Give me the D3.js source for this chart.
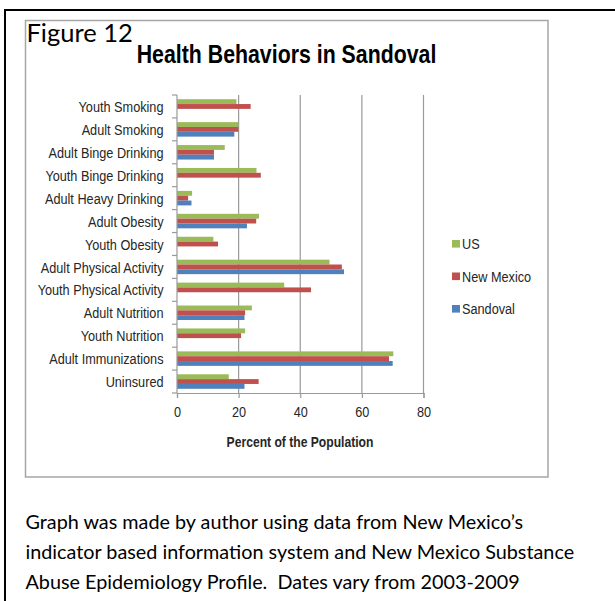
<!DOCTYPE html>
<html>
<head>
<meta charset="utf-8">
<script src="https://cdn.jsdelivr.net/npm/d3@7"></script>
<style>
  html, body { margin: 0; padding: 0; background: #fff; }
  svg { display: block; }
  text { white-space: pre; }
</style>
</head>
<body>
<svg id="fig" width="615" height="601"></svg>
<script>
// Health indicators, top to bottom
const categories = [
  "Youth Smoking", "Adult Smoking", "Adult Binge Drinking", "Youth Binge Drinking",
  "Adult Heavy Drinking", "Adult Obesity", "Youth Obesity", "Adult Physical Activity",
  "Youth Physical Activity", "Adult Nutrition", "Youth Nutrition", "Adult Immunizations",
  "Uninsured"
];
// Percent of the population; null where no county figure exists
const usValues         = [19.3, 19.9, 15.5, 25.8, 4.9, 26.6, 11.8, 49.5, 34.8, 24.3, 22.1, 70.2, 16.8];
const newMexicoValues  = [23.9, 19.9, 12.0, 27.2, 3.6, 25.7, 13.3, 53.5, 43.5, 22.1, 20.8, 68.8, 26.5];
const sandovalValues   = [null, 18.6, 12.0, null, 4.7, 22.7, null, 54.2, null, 21.9, null, 70.0, 21.9];
const seriesNames = ["US", "New Mexico", "Sandoval"];
const seriesColors = ["#9BBB59", "#C0504D", "#4F81BD"];
const xTicks = [0, 20, 40, 60, 80];
const captionLines = [
  "Graph was made by author using data from New Mexico\u2019s",
  "indicator based information system and New Mexico Substance",
  "Abuse Epidemiology Profile.  Dates vary from 2003-2009"
];

const seriesValues = [usValues, newMexicoValues, sandovalValues];
const svg = d3.select("#fig");
const chartFont = "'Liberation Sans', Arial, sans-serif";
const bodyFont = "Lato, 'Open Sans', sans-serif";
const squeeze = 0.82;            // horizontal compression for chart lettering
const textColor = "#262626";
const gridColor = "#9a9a9a";

// page frame
svg.append("path")
  .attr("d", "M5,620 V10 H640")
  .attr("fill", "none").attr("stroke", "#000").attr("stroke-width", 2);

// chart box
svg.append("rect")
  .attr("x", 25.5).attr("y", 20.5).attr("width", 522.5).attr("height", 456.5)
  .attr("fill", "#fff").attr("stroke", "#a6a6a6").attr("stroke-width", 1.5);

svg.append("text")
  .attr("x", 26.5).attr("y", 42)
  .attr("font-family", bodyFont).attr("font-size", 25.5)
  .attr("fill", "#000").text("Figure 12");

svg.append("text")
  .attr("transform", `translate(286.5,63) scale(${squeeze},1)`)
  .attr("text-anchor", "middle")
  .attr("font-family", chartFont).attr("font-weight", "bold").attr("font-size", 26)
  .attr("fill", "#000").text("Health Behaviors in Sandoval");

// plot area
const plot = { left: 177, right: 423.5, top: 95, bottom: 393 };
const x = d3.scaleLinear().domain([0, 80]).range([plot.left, plot.right]);
const y = d3.scaleBand().domain(categories).range([plot.top, plot.bottom]).padding(0);
const groupH = 14.5;
const inner = d3.scaleBand().domain(seriesNames)
  .range([(y.bandwidth() - groupH) / 2, (y.bandwidth() + groupH) / 2]);

// vertical gridlines
svg.append("g").selectAll("line")
  .data(xTicks.filter(t => t > 0))
  .join("line")
  .attr("x1", d => x(d)).attr("x2", d => x(d))
  .attr("y1", plot.top).attr("y2", plot.bottom)
  .attr("stroke", gridColor).attr("stroke-width", 1.2);

// bars
const rows = categories.map((c, i) => ({
  category: c,
  values: seriesNames.map((s, k) => ({ series: s, value: seriesValues[k][i], color: seriesColors[k] }))
}));

svg.append("g").selectAll("g")
  .data(rows)
  .join("g")
  .attr("transform", d => `translate(0,${y(d.category)})`)
  .selectAll("rect")
  .data(d => d.values.filter(v => v.value !== null))
  .join("rect")
  .attr("x", x(0))
  .attr("y", d => inner(d.series))
  .attr("width", d => x(d.value) - x(0))
  .attr("height", inner.bandwidth())
  .attr("fill", d => d.color);

// x axis
const xAxis = svg.append("g")
  .attr("transform", `translate(0,${plot.bottom})`)
  .call(d3.axisBottom(x).tickValues(xTicks).tickSize(5).tickPadding(8));
xAxis.select(".domain").attr("stroke", gridColor).attr("stroke-width", 1.2);
xAxis.selectAll(".tick line").attr("stroke", gridColor).attr("stroke-width", 1.2);
xAxis.selectAll(".tick text")
  .attr("transform", `scale(${squeeze},1)`)
  .attr("font-family", chartFont).attr("font-size", 15.5).attr("fill", textColor);

// y axis: line, boundary ticks, category labels
svg.append("line")
  .attr("x1", plot.left).attr("x2", plot.left)
  .attr("y1", plot.top).attr("y2", plot.bottom)
  .attr("stroke", gridColor).attr("stroke-width", 1.2);

const boundaries = categories.map(c => y(c)).concat([plot.bottom]);
svg.append("g").selectAll("line")
  .data(boundaries)
  .join("line")
  .attr("x1", plot.left - 5).attr("x2", plot.left)
  .attr("y1", d => d).attr("y2", d => d)
  .attr("stroke", gridColor).attr("stroke-width", 1.2);

svg.append("g").selectAll("text")
  .data(categories)
  .join("text")
  .attr("transform", d => `translate(163.5,${y(d) + y.bandwidth() / 2}) scale(${squeeze},1)`)
  .attr("dy", "0.36em")
  .attr("text-anchor", "end")
  .attr("font-family", chartFont).attr("font-size", 15.5).attr("fill", textColor)
  .text(d => d);

svg.append("text")
  .attr("transform", `translate(300,447) scale(${squeeze},1)`)
  .attr("text-anchor", "middle")
  .attr("font-family", chartFont).attr("font-weight", "bold").attr("font-size", 14.8)
  .attr("fill", textColor).text("Percent of the Population");

// legend
const legend = svg.append("g").selectAll("g")
  .data(seriesNames)
  .join("g")
  .attr("transform", (d, i) => `translate(452,${243.8 + i * 32.5})`);
legend.append("rect")
  .attr("x", 0).attr("y", -3.8).attr("width", 8).attr("height", 7.6)
  .attr("fill", (d, i) => seriesColors[i]);
legend.append("text")
  .attr("transform", `translate(10,0) scale(${squeeze},1)`)
  .attr("dy", "0.36em")
  .attr("font-family", chartFont).attr("font-size", 15.5).attr("fill", textColor)
  .text(d => d);

// caption below the chart box
svg.append("g").selectAll("text")
  .data(captionLines)
  .join("text")
  .attr("x", 25.5)
  .attr("y", (d, i) => 529 + i * 30)
  .attr("font-family", bodyFont).attr("font-size", 19.8)
  .attr("fill", "#000")
  .text(d => d);
</script>
</body>
</html>
